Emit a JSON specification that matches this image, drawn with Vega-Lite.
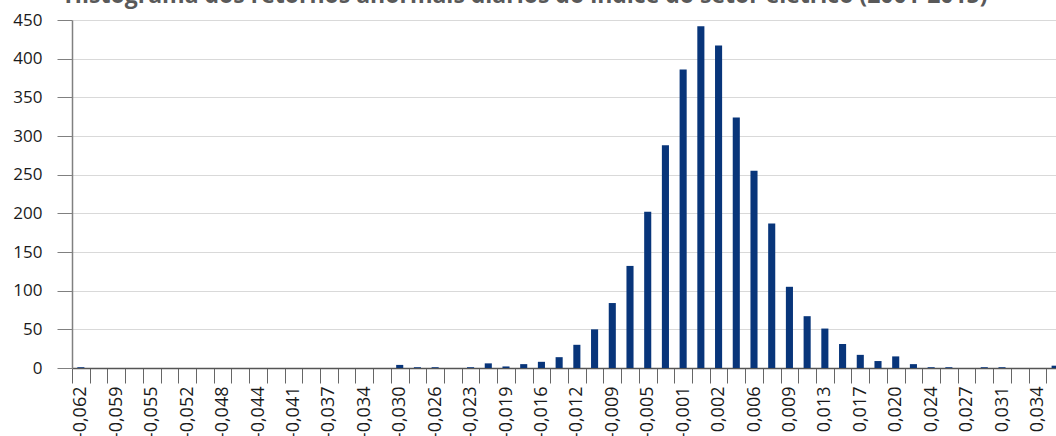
{
  "$schema": "https://vega.github.io/schema/vega-lite/v6.json",
  "autosize": {"type": "none"},
  "width": 984,
  "height": 348,
  "padding": {"left": 72, "top": 20, "right": 0, "bottom": 68},
  "background": "white",
  "title": {
    "text": "Histograma dos retornos anormais diários do índice do setor elétrico (2001-2015)",
    "font": "Open Sans",
    "fontSize": 23,
    "fontWeight": "bold",
    "color": "#595959",
    "anchor": "middle",
    "dx": -38,
    "offset": 3
  },
  "data": {
    "values": [
      {"i": 0, "bin": "-0,062", "count": 1},
      {"i": 1, "bin": "-0,060", "count": 0},
      {"i": 2, "bin": "-0,059", "count": 0},
      {"i": 3, "bin": "-0,057", "count": 0},
      {"i": 4, "bin": "-0,055", "count": 0},
      {"i": 5, "bin": "-0,053", "count": 0},
      {"i": 6, "bin": "-0,052", "count": 0},
      {"i": 7, "bin": "-0,050", "count": 0},
      {"i": 8, "bin": "-0,048", "count": 0},
      {"i": 9, "bin": "-0,046", "count": 0},
      {"i": 10, "bin": "-0,044", "count": 0},
      {"i": 11, "bin": "-0,043", "count": 0},
      {"i": 12, "bin": "-0,041", "count": 0},
      {"i": 13, "bin": "-0,039", "count": 0},
      {"i": 14, "bin": "-0,037", "count": 0},
      {"i": 15, "bin": "-0,035", "count": 0},
      {"i": 16, "bin": "-0,034", "count": 0},
      {"i": 17, "bin": "-0,032", "count": 0},
      {"i": 18, "bin": "-0,030", "count": 4},
      {"i": 19, "bin": "-0,028", "count": 1},
      {"i": 20, "bin": "-0,026", "count": 1},
      {"i": 21, "bin": "-0,025", "count": 0},
      {"i": 22, "bin": "-0,023", "count": 1},
      {"i": 23, "bin": "-0,021", "count": 6},
      {"i": 24, "bin": "-0,019", "count": 2},
      {"i": 25, "bin": "-0,018", "count": 5},
      {"i": 26, "bin": "-0,016", "count": 8},
      {"i": 27, "bin": "-0,014", "count": 14},
      {"i": 28, "bin": "-0,012", "count": 30},
      {"i": 29, "bin": "-0,010", "count": 50},
      {"i": 30, "bin": "-0,009", "count": 84},
      {"i": 31, "bin": "-0,007", "count": 132},
      {"i": 32, "bin": "-0,005", "count": 202},
      {"i": 33, "bin": "-0,003", "count": 288},
      {"i": 34, "bin": "-0,001", "count": 386},
      {"i": 35, "bin": "0,000", "count": 442},
      {"i": 36, "bin": "0,002", "count": 417},
      {"i": 37, "bin": "0,004", "count": 324},
      {"i": 38, "bin": "0,006", "count": 255},
      {"i": 39, "bin": "0,008", "count": 187},
      {"i": 40, "bin": "0,009", "count": 105},
      {"i": 41, "bin": "0,011", "count": 67},
      {"i": 42, "bin": "0,013", "count": 51},
      {"i": 43, "bin": "0,015", "count": 31},
      {"i": 44, "bin": "0,017", "count": 17},
      {"i": 45, "bin": "0,018", "count": 9},
      {"i": 46, "bin": "0,020", "count": 15},
      {"i": 47, "bin": "0,022", "count": 5},
      {"i": 48, "bin": "0,024", "count": 1},
      {"i": 49, "bin": "0,025", "count": 1},
      {"i": 50, "bin": "0,027", "count": 0},
      {"i": 51, "bin": "0,029", "count": 1},
      {"i": 52, "bin": "0,031", "count": 1},
      {"i": 53, "bin": "0,033", "count": 0},
      {"i": 54, "bin": "0,034", "count": 0},
      {"i": 55, "bin": "0,036", "count": 3}
    ]
  },
  "mark": {"type": "bar", "color": "#08357a", "width": {"band": 0.4}},
  "encoding": {
    "x": {
      "field": "bin",
      "type": "ordinal",
      "sort": null,
      "scale": {"paddingInner": 0, "paddingOuter": 0, "range": [0, 992]},
      "axis": {
        "title": null,
        "tickBand": "extent",
        "labelAngle": -90,
        "labelAlign": "right",
        "labelBaseline": "middle",
        "labelPadding": 3,
        "labelFont": "Open Sans",
        "labelFontSize": 18,
        "labelColor": "#1a1a1a",
        "labelExpr": "round(datum.index * 55) % 2 == 0 ? datum.label : ''",
        "labelOverlap": false,
        "tickSize": 15,
        "tickColor": "#666666",
        "domainColor": "#555555",
        "domainWidth": 1.5,
        "grid": false
      }
    },
    "y": {
      "field": "count",
      "type": "quantitative",
      "scale": {"domain": [0, 450], "nice": false},
      "axis": {
        "title": null,
        "values": [0, 50, 100, 150, 200, 250, 300, 350, 400, 450],
        "labelFont": "Open Sans",
        "labelFontSize": 17,
        "labelColor": "#1a1a1a",
        "labelPadding": 15,
        "tickSize": 15,
        "tickColor": "#808080",
        "domainColor": "#808080",
        "domainWidth": 1.5,
        "gridColor": "#d9d9d9",
        "gridWidth": 1.2
      }
    }
  },
  "config": {"view": {"stroke": null}}
}
